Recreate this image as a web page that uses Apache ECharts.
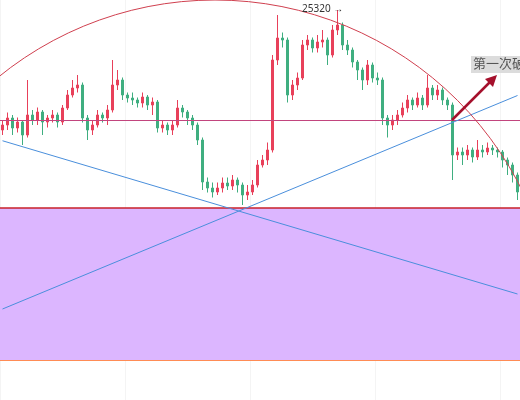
<!DOCTYPE html>
<html>
<head>
<meta charset="utf-8">
<script src="https://cdn.jsdelivr.net/npm/echarts@6/dist/echarts.min.js"></script>
<style>html,body{margin:0;padding:0;background:#fff}#chart{width:520px;height:400px}</style>
</head>
<body>
<div id="chart"></div>
<script>
// 价格数据（开、收、低、高）
const opens = [24840,24860,24888,24848,24872,24820,24900,24880,24912,24872,24888,24900,24872,24928,24980,25008,25020,24888,24840,24860,24900,24888,24920,25020,25040,24980,24968,24960,24948,24972,24940,24952,24848,24860,24840,24860,24928,24912,24888,24860,24800,24632,24608,24592,24608,24628,24616,24640,24620,24580,24592,24620,24700,24720,24760,25120,25208,25200,24980,25020,25048,25180,25200,25168,25192,25200,25140,25240,25260,25180,25160,25112,25080,25040,25100,25048,25040,24888,24860,24880,24900,24928,24960,24940,24968,24940,25008,24980,25000,24960,24940,24740,24752,24740,24760,24732,24760,24752,24768,24760,24752,24720,24700,24660]
const closes = [24860,24888,24848,24872,24820,24900,24880,24912,24872,24888,24900,24872,24928,24980,25008,25020,24888,24840,24860,24900,24888,24920,25020,25040,24980,24968,24960,24948,24972,24940,24952,24848,24860,24840,24860,24928,24912,24888,24860,24800,24632,24608,24592,24608,24628,24616,24640,24620,24580,24592,24620,24700,24720,24760,25120,25208,25200,24980,25020,25048,25180,25200,25168,25192,25200,25140,25240,25260,25180,25160,25112,25080,25040,25100,25048,25040,24888,24860,24880,24900,24928,24960,24940,24968,24940,25008,24980,25000,24960,24940,24740,24752,24740,24760,24732,24760,24752,24768,24760,24752,24720,24700,24660,24592]
const lows = [24820,24840,24820,24830,24780,24810,24860,24860,24820,24850,24870,24850,24860,24920,24970,24990,24870,24800,24820,24850,24870,24860,24910,25000,24960,24950,24940,24930,24930,24920,24900,24830,24830,24820,24820,24850,24890,24860,24840,24780,24600,24590,24570,24580,24590,24600,24600,24590,24540,24560,24580,24610,24690,24700,24750,25100,25170,24950,24960,25000,25040,25160,25150,25150,25170,25100,25130,25220,25160,25140,25090,25040,25000,25020,25030,25020,24860,24810,24840,24860,24890,24910,24920,24930,24920,24930,24960,24960,24940,24920,24640,24720,24700,24720,24710,24720,24730,24740,24740,24730,24690,24660,24630,24560]
const highs = [24880,24910,24900,24890,24880,25040,24920,24930,24920,24900,24920,24910,24940,25000,25040,25060,25030,24900,24880,24920,24910,24940,25120,25080,25050,24990,24990,24970,24990,24980,24970,24960,24880,24870,24880,24960,24940,24920,24900,24870,24810,24650,24630,24630,24650,24650,24660,24650,24630,24620,24640,24720,24740,24790,25140,25300,25230,25210,25040,25070,25200,25220,25210,25220,25240,25210,25260,25320,25270,25200,25170,25120,25090,25120,25110,25070,25050,24900,24900,24920,24950,24980,24970,24990,24980,25060,25020,25020,25010,24970,24950,24770,24770,24780,24770,24800,24780,24790,24780,24770,24760,24730,24710,24670]
const categories = opens.map((_, i) => 'K' + (i + 1))

// 画线位置（价格）
const resistLevel = 24880
const boxTop = 24528
const boxBottom = 23920
const downLine = [24797, 24184]
const upLine = [24124, 24978]

const chart = echarts.init(document.getElementById('chart'))
const candleData = opens.map((o, i) => [o, closes[i], lows[i], highs[i]])
const last = categories.length - 1

chart.setOption({
  animation: false,
  backgroundColor: '#fff',
  grid: { left: 0, right: 0, top: 0, bottom: 0 },
  xAxis: {
    type: 'category', data: categories, boundaryGap: true,
    axisLine: { show: false }, axisTick: { show: false }, axisLabel: { show: false },
    splitLine: { show: true, interval: 24, lineStyle: { color: '#f4f4f4' } }
  },
  yAxis: {
    type: 'value', min: 23760, max: 25360, show: false,
    splitLine: { show: false }
  },
  series: [{
    type: 'candlestick',
    data: candleData,
    barWidth: 3,
    itemStyle: { color: '#e8405a', color0: '#3fae80', borderColor: '#e8405a', borderColor0: '#3fae80', borderWidth: 1 },
    markArea: {
      silent: true,
      itemStyle: { color: '#dcb6ff' },
      data: [[{ yAxis: boxTop }, { yAxis: boxBottom }]]
    },
    markLine: {
      silent: true, symbol: 'none', label: { show: false },
      data: [
        { yAxis: resistLevel, lineStyle: { color: '#c2457e', width: 1, type: 'solid' } },
        { yAxis: boxTop, lineStyle: { color: '#c8202a', width: 1.5, type: 'solid' } },
        { yAxis: boxBottom, lineStyle: { color: '#ff8c55', width: 1, type: 'solid' } },
        [{ coord: [0, downLine[0]], lineStyle: { color: '#4a8fdc', width: 1, type: 'solid' } }, { coord: [last, downLine[1]] }],
        [{ coord: [0, upLine[0]], lineStyle: { color: '#4a8fdc', width: 1, type: 'solid' } }, { coord: [last, upLine[1]] }]
      ]
    }
  }],
  graphic: [
    { type: 'circle', shape: { cx: 215, cy: 343, r: 343 }, style: { fill: 'none', stroke: '#d0404f', lineWidth: 1 }, z: 10 },
    { type: 'line', shape: { x1: 452, y1: 120, x2: 494, y2: 78 }, style: { stroke: '#a5102c', lineWidth: 2.5 }, z: 11 },
    { type: 'polygon', shape: { points: [[497, 75], [485, 79], [493, 87]] }, style: { fill: '#a5102c' }, z: 11 },
    { type: 'rect', shape: { x: 471, y: 56, width: 60, height: 17 }, style: { fill: '#dcdcdc' }, z: 11 },
    { type: 'text', x: 473, y: 57, style: { text: '第一次破位', fill: '#555', font: '13px "Noto Sans CJK SC"' }, z: 12 },
    { type: 'text', x: 302, y: 4, style: { text: '25320 →', fill: '#333', font: '10px "Noto Sans"' }, z: 12 }
  ]
})
</script>
</body>
</html>
